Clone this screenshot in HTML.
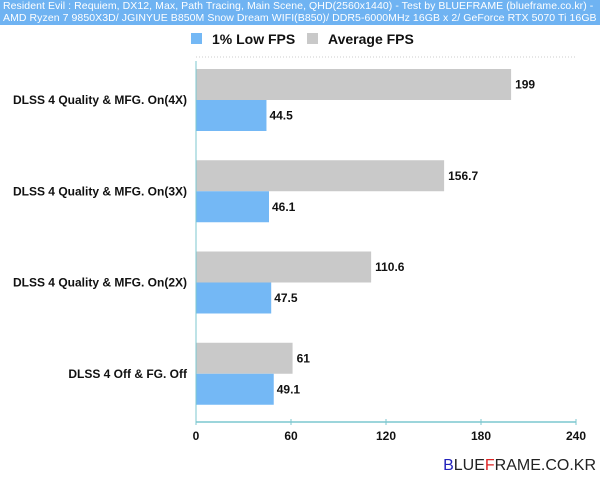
<!DOCTYPE html>
<html><head><meta charset="utf-8"><style>
body{margin:0;width:600px;height:483px;background:#fff;font-family:"Liberation Sans",Arial,sans-serif;overflow:hidden;position:relative}
#hdr{position:absolute;left:0;top:0;width:600px;height:25px;background:#6fb3f2;color:#fff;font-size:10.5px;letter-spacing:0.07px;line-height:11.5px;padding:1px 0 0 3px;box-sizing:border-box;white-space:nowrap}
</style></head><body>
<div id="hdr">Resident Evil : Requiem, DX12, Max, Path Tracing, Main Scene, QHD(2560x1440) - Test by BLUEFRAME (blueframe.co.kr) -<br>AMD Ryzen 7 9850X3D/ JGINYUE B850M Snow Dream WIFI(B850)/ DDR5-6000MHz 16GB x 2/ GeForce RTX 5070 Ti 16GB</div>
<svg id="c" width="600" height="483" style="position:absolute;left:0;top:0"></svg>
<script>
const categories=["DLSS 4 Quality & MFG. On(4X)","DLSS 4 Quality & MFG. On(3X)","DLSS 4 Quality & MFG. On(2X)","DLSS 4 Off & FG. Off"];
const avgFps=[199,156.7,110.6,61];
const lowFps=[44.5,46.1,47.5,49.1];
const ticks=[0,60,120,180,240];
const svg=document.getElementById('c');const NS='http://www.w3.org/2000/svg';
const X0=196,X1=576,TOP=57,BOT=422,MAX=240;
const x=v=>X0+v/MAX*(X1-X0);
const band=(BOT-TOP)/categories.length;
function mk(t,a,p){const e=document.createElementNS(NS,t);for(const k in a)e.setAttribute(k,a[k]);(p||svg).appendChild(e);return e;}
let e;
e=mk('line',{x1:X0,x2:X1,y1:TOP,y2:TOP,stroke:'#ccc','stroke-dasharray':'1,2'});


e=mk('rect',{x:191,y:33,width:11,height:11,fill:'#74b8f5'});


e=mk('text',{x:212,y:44,'font-size':14,'font-weight':'bold',fill:'#111'});e.textContent='1% Low FPS';


e=mk('rect',{x:307,y:33,width:11,height:11,fill:'#c9c9c9'});


e=mk('text',{x:328,y:44,'font-size':14,'font-weight':'bold',fill:'#111'});e.textContent='Average FPS';


categories.forEach((c,i)=>{
  const y0=TOP+i*band+12, h=31;
  let r=mk('rect',{x:X0,y:y0,width:x(avgFps[i])-X0,height:h,fill:'#c9c9c9'});
  
  
  let t=mk('text',{x:x(avgFps[i])+4,y:y0+h/2+4,'font-size':12,'font-weight':'bold',fill:'#111'});t.textContent=avgFps[i];
  
  
  r=mk('rect',{x:X0,y:y0+h,width:x(lowFps[i])-X0,height:h,fill:'#74b8f5'});
  
  
  t=mk('text',{x:x(lowFps[i])+3,y:y0+h+h/2+4,'font-size':12,'font-weight':'bold',fill:'#111'});t.textContent=lowFps[i];
  
  
  t=mk('text',{x:187,y:y0+h+4,'font-size':12,'font-weight':'bold',fill:'#111','text-anchor':'end'});t.textContent=c;
  
  
});
e=mk('line',{x1:X0,x2:X0,y1:TOP+4,y2:BOT,stroke:'#7cc7cf','stroke-width':1});


e=mk('line',{x1:X0,x2:X1,y1:BOT,y2:BOT,stroke:'#7cc7cf','stroke-width':1.5});


ticks.forEach(v=>{
  let l=mk('line',{x1:x(v),x2:x(v),y1:BOT-3,y2:BOT+3,stroke:'#7cc7cf'});
  
  
  let t=mk('text',{x:x(v),y:BOT+18,'font-size':12,'font-weight':'bold',fill:'#111','text-anchor':'middle'});t.textContent=v;
  
  
});
e=mk('text',{x:596,y:470,'font-size':16,fill:'#222','text-anchor':'end','font-family':'Liberation Sans, sans-serif'});
e.innerHTML='<tspan fill="#2222bb">B</tspan>LUE<tspan fill="#dd2222">F</tspan>RAME.CO.KR';


</script>
</body></html>
